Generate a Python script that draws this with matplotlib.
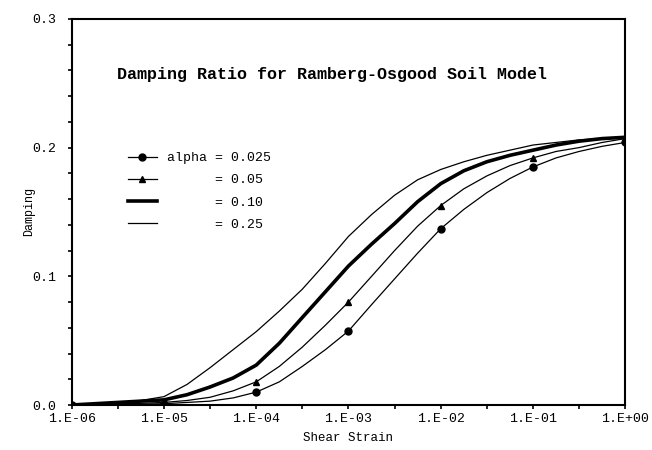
import matplotlib.pyplot as plt
from matplotlib.ticker import FixedLocator, NullFormatter

plt.rcParams['font.family'] = ['Liberation Mono', 'DejaVu Sans Mono']

# shear strain at quarter-decade steps (markers sit on the full decades)
strain = [1e-6, 1.78e-6, 3.16e-6, 5.62e-6,
          1e-5, 1.78e-5, 3.16e-5, 5.62e-5,
          1e-4, 1.78e-4, 3.16e-4, 5.62e-4,
          1e-3, 1.78e-3, 3.16e-3, 5.62e-3,
          1e-2, 1.78e-2, 3.16e-2, 5.62e-2,
          1e-1, 1.78e-1, 3.16e-1, 5.62e-1,
          1e0]

damp_025 = [0.0, 0.0001, 0.0003, 0.0006,
            0.001, 0.002, 0.003, 0.0055,
            0.010, 0.018, 0.030, 0.043,
            0.0575, 0.078, 0.098, 0.118,
            0.137, 0.152, 0.165, 0.176,
            0.185, 0.192, 0.197, 0.201,
            0.204]
damp_05 = [0.0, 0.0004, 0.0008, 0.0013,
           0.002, 0.0035, 0.006, 0.011,
           0.018, 0.030, 0.045, 0.062,
           0.080, 0.100, 0.120, 0.139,
           0.155, 0.168, 0.178, 0.186,
           0.192, 0.197, 0.200, 0.204,
           0.207]
damp_10 = [0.0, 0.001, 0.002, 0.003,
           0.004, 0.008, 0.014, 0.021,
           0.031, 0.048, 0.068, 0.088,
           0.108, 0.125, 0.141, 0.158,
           0.172, 0.182, 0.189, 0.194,
           0.198, 0.202, 0.205, 0.207,
           0.208]
damp_25 = [0.0, 0.001, 0.002, 0.0035,
           0.0065, 0.016, 0.029, 0.043,
           0.057, 0.073, 0.090, 0.110,
           0.131, 0.148, 0.163, 0.175,
           0.183, 0.189, 0.194, 0.198,
           0.202, 0.204, 0.206, 0.207,
           0.208]

labels = ["alpha = 0.025", "      = 0.05", "      = 0.10", "      = 0.25"]
xtick_vals = [1e-6, 1e-5, 1e-4, 1e-3, 1e-2, 1e-1, 1e0]
xtick_labels = ["1.E-06", "1.E-05", "1.E-04", "1.E-03", "1.E-02", "1.E-01", "1.E+00"]
ytick_vals = [0.0, 0.1, 0.2, 0.3]
ytick_labels = ["0.0", "0.1", "0.2", "0.3"]

fig = plt.figure(figsize=(6.52, 4.5), dpi=100)
ax = fig.add_axes([0.110, 0.100, 0.849, 0.858])

ax.plot(strain, damp_025, color="black", lw=0.9, marker="o", ms=5,
        markevery=4, label=labels[0])
ax.plot(strain, damp_05, color="black", lw=0.9, marker="^", ms=5,
        markevery=4, label=labels[1])
ax.plot(strain, damp_10, color="black", lw=2.6, label=labels[2])
ax.plot(strain, damp_25, color="black", lw=0.9, label=labels[3])

ax.set_xscale("log")
ax.set_xlim(1e-6, 1e0)
ax.set_ylim(0, 0.3)

ax.xaxis.set_major_locator(FixedLocator(xtick_vals))
ax.set_xticklabels(xtick_labels)
ax.xaxis.set_minor_locator(FixedLocator([3.16e-6, 3.16e-5, 3.16e-4, 3.16e-3, 3.16e-2, 3.16e-1]))
ax.xaxis.set_minor_formatter(NullFormatter())
ax.set_yticks(ytick_vals)
ax.set_yticklabels(ytick_labels)
ax.yaxis.set_minor_locator(FixedLocator([0.02, 0.04, 0.06, 0.08, 0.12, 0.14, 0.16, 0.18,
                                         0.22, 0.24, 0.26, 0.28]))

ax.tick_params(which="both", direction="out", length=3, width=1.2, labelsize=9.5)
ax.tick_params(axis="x", pad=3)
ax.tick_params(axis="y", pad=8)
for s in ax.spines.values():
    s.set_linewidth(1.5)

ax.set_xlabel("Shear Strain", fontsize=9, labelpad=5)
ax.set_ylabel("Damping", fontsize=8.5, labelpad=-2)

ax.text(0.47, 0.855, "Damping Ratio for Ramberg-Osgood Soil Model",
        transform=ax.transAxes, ha="center", va="center",
        fontsize=12, fontweight="bold")

ax.legend(loc="upper left", bbox_to_anchor=(0.101, 0.655), frameon=False,
          fontsize=9.5, handlelength=2.2, handletextpad=0.8, borderpad=0,
          borderaxespad=0, labelspacing=0.75)

fig.savefig("out.png", dpi=100)
